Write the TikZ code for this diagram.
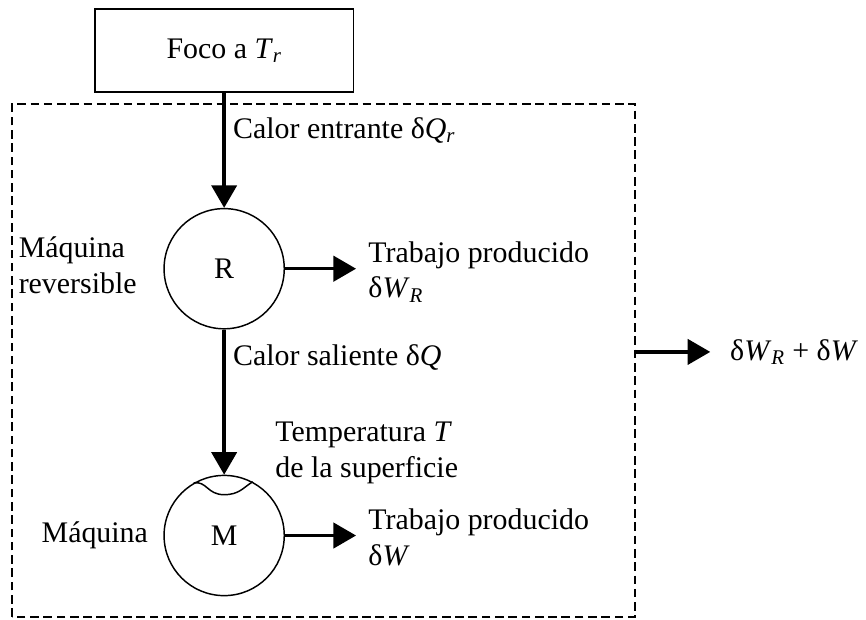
\documentclass[tikz,border=0pt]{standalone}
\usepackage{amsmath}
\usepackage{fontspec}
\setmainfont{Liberation Serif}
\usetikzlibrary{arrows.meta, positioning, calc}
\newcommand{\isub}[1]{\ensuremath{_{\textit{#1}}}}
\tikzset{
    % Heat reservoir box
    sourcebox/.style={
        draw, line width=1.1pt,
        minimum width=6.83cm,
        minimum height=2.2cm,
        font=\fontsize{22.5}{27}\selectfont,
    },
    % Engine circle
    enginecircle/.style={
        circle, draw, line width=1.1pt,
        minimum size=3.18cm,
        inner sep=0pt,
        font=\fontsize{22.5}{27}\selectfont,
    },
    % System boundary
    boundary/.style={
        draw, line width=1.9pt,
        dash pattern=on 6.5pt off 3.5pt,
    },
    % Heat / work arrow
    flowarrow/.style={
        -{Triangle[length=17pt,width=19pt]},
        line width=2.5pt,
    },
    % Text label
    txtlabel/.style={
        font=\fontsize{22.5}{27}\selectfont,
        align=left,
        inner sep=0pt,
    },
}
\begin{document}
\begin{tikzpicture}

\useasboundingbox (0,0) rectangle (22.91,-16.38);

% --- Reservoir and engines ---
\node[sourcebox] (foco) at (5.93,-1.34) {Foco a \textit{T}\isub{r}};
\node[enginecircle, below=3.04cm of foco] (R) {R};
\node[enginecircle, below=3.84cm of R] (M) {M};

% --- System boundary ---
\coordinate (bl) at (0.32,-16.32);
\coordinate (tr) at (16.80,-2.75);
\draw[boundary] (bl) rectangle (tr);

% --- Labels ---
\node[txtlabel, anchor=west] (qin) at (6.16,-3.44) {Calor entrante δ\textit{Q}\isub{r}};
\node[txtlabel, left=0.7cm of R, yshift=0.1cm] (mrev) {Máquina\\reversible};
\node[txtlabel, right=2.2cm of R, yshift=-0.08cm] (wr) {Trabajo producido\\δ\textit{W}\isub{R}};
\node[txtlabel, anchor=west] (qout) at (6.16,-9.47) {Calor saliente δ\textit{Q}};
\node[txtlabel, anchor=west] (temp) at (7.28,-11.99) {Temperatura \textit{T}\\de la superficie};
\node[txtlabel, left=0.4cm of M] (mq) {Máquina};
\node[txtlabel, right=2.2cm of M, yshift=-0.05cm] (wm) {Trabajo producido\\δ\textit{W}};
\node[txtlabel, anchor=west] (wtot) at (19.31,-9.31) {δ\textit{W}\isub{R} + δ\textit{W}};

% --- Arrow ends ---
\coordinate (wrend) at ([xshift=-0.32cm]wr.west |- R.east);
\coordinate (wmend) at ([xshift=-0.32cm]wm.west |- M.east);
\coordinate (bstart) at (tr |- wtot.west);
\coordinate (bend) at ([xshift=-0.52cm]wtot.west);

% --- Arrows ---
\draw[flowarrow] (foco) -- (R);
\draw[flowarrow] (R) -- (M);
\draw[flowarrow] (R.east) -- (wrend);
\draw[flowarrow] (M.east) -- (wmend);
\draw[flowarrow] (bstart) -- (bend);

% --- Surface notch on M ---
\draw[line width=1.1pt] (M.120) .. controls ($(M.120)+(0.35,0.05)$) and ($(M.center)+(-0.45,1.08)$) .. ($(M.center)+(0,1.08)$)
    .. controls ($(M.center)+(0.4,1.08)$) and ($(M.62)+(-0.25,-0.15)$) .. (M.62);

\end{tikzpicture}
\end{document}
